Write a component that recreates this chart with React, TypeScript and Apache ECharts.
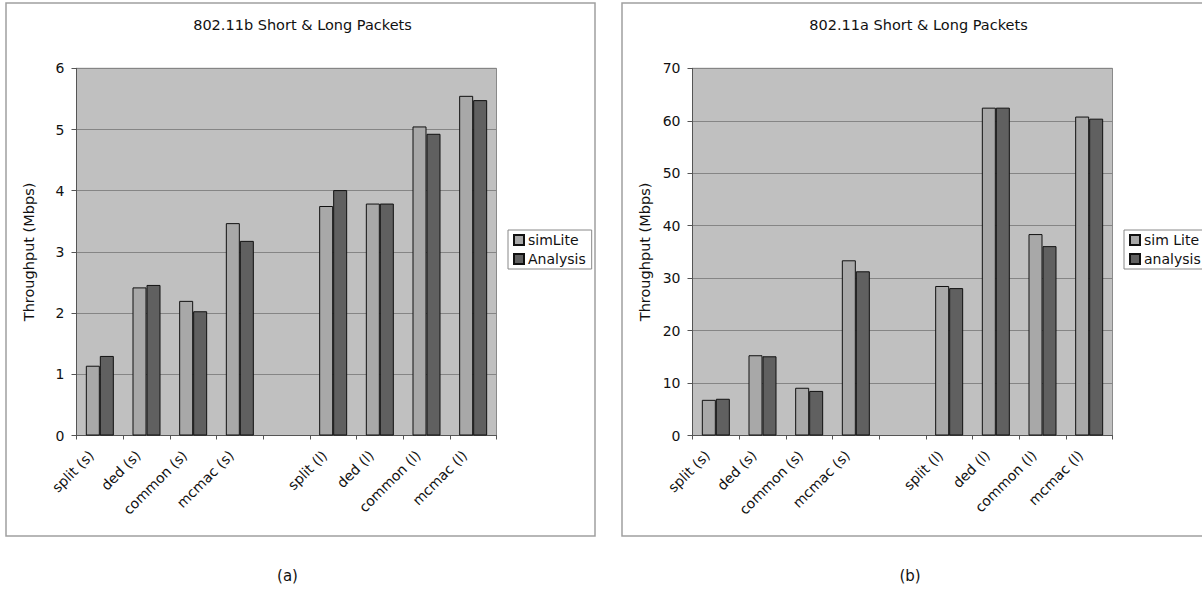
import React, { useEffect, useRef } from "react";
import * as echarts from "echarts";

// Category slots; the empty one separates short-packet and long-packet groups
const categories = [
  "split (s)",
  "ded (s)",
  "common (s)",
  "mcmac (s)",
  "",
  "split (l)",
  "ded (l)",
  "common (l)",
  "mcmac (l)",
];

// 802.11b throughput (Mbps)
const bSimLite = [1.14, 2.42, 2.2, 3.47, null, 3.75, 3.79, 5.05, 5.55];
const bAnalysis = [1.3, 2.46, 2.03, 3.18, null, 4.01, 3.79, 4.93, 5.48];

// 802.11a throughput (Mbps)
const aSimLite = [6.8, 15.3, 9.1, 33.4, null, 28.5, 62.5, 38.4, 60.8];
const aAnalysis = [7.0, 15.1, 8.5, 31.3, null, 28.1, 62.5, 36.1, 60.4];

const bTicks = { min: 0, max: 6, interval: 1 };
const aTicks = { min: 0, max: 70, interval: 10 };

const FONT = "DejaVu Sans";
const LIGHT = "#a8a8a8";
const DARK = "#606060";

function xAxisFor(gridIndex: number) {
  return {
    type: "category",
    gridIndex,
    data: categories,
    boundaryGap: true,
    axisLine: { show: true, lineStyle: { color: "#555", width: 1 } },
    axisTick: { show: true, length: 4, lineStyle: { color: "#555" } },
    axisLabel: {
      interval: 0,
      rotate: 45,
      margin: 9,
      padding: [0, 12, 0, 0],
      color: "#111",
      fontFamily: FONT,
      fontSize: 14,
    },
  };
}

function yAxisFor(gridIndex: number, t: { min: number; max: number; interval: number }) {
  return {
    type: "value",
    gridIndex,
    min: t.min,
    max: t.max,
    interval: t.interval,
    name: "Throughput (Mbps)",
    nameLocation: "middle",
    nameRotate: 90,
    nameGap: 40,
    nameTextStyle: { color: "#111", fontFamily: FONT, fontSize: 14.5 },
    axisLine: { show: true, lineStyle: { color: "#555", width: 1 } },
    axisTick: { show: true, length: 5, lineStyle: { color: "#555" } },
    axisLabel: { color: "#111", fontFamily: FONT, fontSize: 14, margin: 12 },
    splitLine: { show: true, lineStyle: { color: "#858585", width: 1 } },
  };
}

function barSeries(name: string, data: (number | null)[], color: string, idx: number) {
  return {
    name,
    type: "bar",
    xAxisIndex: idx,
    yAxisIndex: idx,
    data,
    barWidth: 14,
    barGap: "0%",
    itemStyle: { color, borderColor: "#111", borderWidth: 1 },
  };
}

function legendFor(left: number, names: string[]) {
  return {
    data: names,
    orient: "vertical",
    left,
    top: 230,
    padding: [3, 6, 3, 5],
    itemGap: 5,
    itemWidth: 10,
    itemHeight: 10,
    icon: "rect",
    borderColor: "#888",
    borderWidth: 1,
    backgroundColor: "#fff",
    textStyle: { color: "#111", fontFamily: FONT, fontSize: 14, padding: [0, 0, 0, -1] },
  };
}

export default function App() {
  const ref = useRef<HTMLDivElement>(null);

  useEffect(() => {
    if (!ref.current) return;
    const chart = echarts.init(ref.current, null, { renderer: "svg" });
    chart.setOption({
      animation: false,
      backgroundColor: "#fff",
      grid: [
        { left: 76.5, top: 68.3, width: 420, height: 367.2, show: true, backgroundColor: "#c0c0c0", borderColor: "#8a8a8a", borderWidth: 1 },
        { left: 692.5, top: 68.3, width: 420, height: 367.2, show: true, backgroundColor: "#c0c0c0", borderColor: "#8a8a8a", borderWidth: 1 },
      ],
      xAxis: [xAxisFor(0), xAxisFor(1)],
      yAxis: [yAxisFor(0, bTicks), yAxisFor(1, aTicks)],
      legend: [legendFor(508, ["simLite", "Analysis"]), legendFor(1124, ["sim Lite", "analysis"])],
      series: [
        barSeries("simLite", bSimLite, LIGHT, 0),
        barSeries("Analysis", bAnalysis, DARK, 0),
        barSeries("sim Lite", aSimLite, LIGHT, 1),
        barSeries("analysis", aAnalysis, DARK, 1),
      ],
      graphic: [
        { type: "rect", z: -10, shape: { x: 6, y: 3, width: 589, height: 533 }, style: { fill: "none", stroke: "#a0a0a0", lineWidth: 1.5 } },
        { type: "rect", z: -10, shape: { x: 622, y: 3, width: 600, height: 533 }, style: { fill: "none", stroke: "#a0a0a0", lineWidth: 1.5 } },
        { type: "text", x: 302.5, y: 25, style: { text: "802.11b Short & Long Packets", fill: "#111", font: `14.5px "${FONT}"`, textAlign: "center", textVerticalAlign: "middle" } },
        { type: "text", x: 918.5, y: 25, style: { text: "802.11a Short & Long Packets", fill: "#111", font: `14.5px "${FONT}"`, textAlign: "center", textVerticalAlign: "middle" } },
        { type: "text", x: 287.5, y: 576, style: { text: "(a)", fill: "#111", font: `15px "${FONT}"`, textAlign: "center", textVerticalAlign: "middle" } },
        { type: "text", x: 910, y: 576, style: { text: "(b)", fill: "#111", font: `15px "${FONT}"`, textAlign: "center", textVerticalAlign: "middle" } },
      ],
    });
    return () => chart.dispose();
  }, []);

  return (
    <div
      ref={ref}
      style={{ position: "absolute", left: 0, top: 0, width: 1202, height: 592 }}
    />
  );
}
